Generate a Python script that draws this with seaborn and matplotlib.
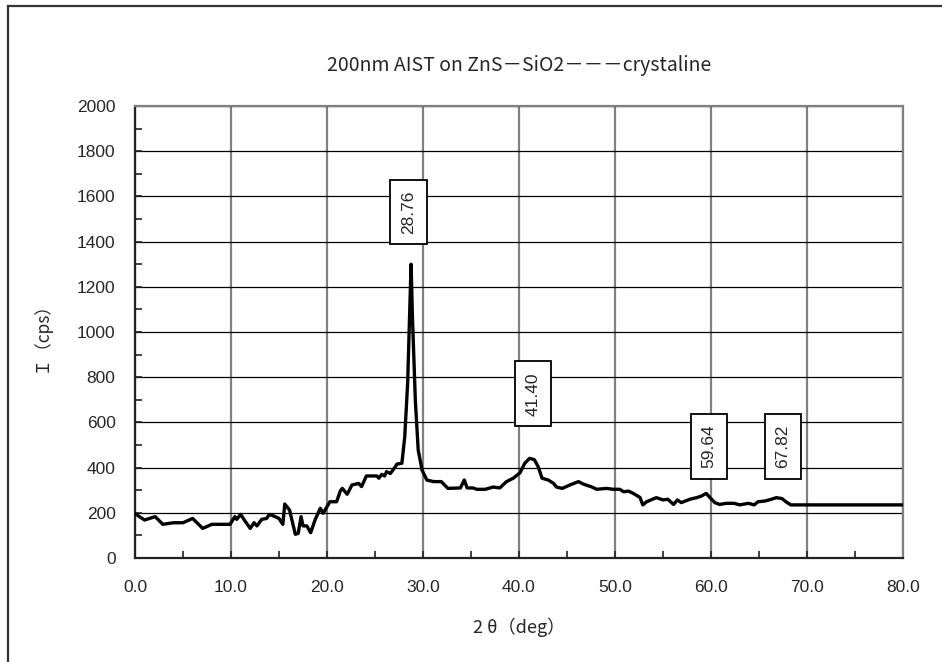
"""XRD scan of 200nm AIST on ZnS-SiO2 (crystalline), redrawn with seaborn."""

import matplotlib
matplotlib.use("Agg")
import matplotlib.pyplot as plt
from matplotlib.patches import Rectangle
from matplotlib.ticker import MultipleLocator
import pandas as pd
import seaborn as sns


TWO_THETA = [0.0, 1.0, 2.1, 2.9, 4.0, 5.0, 6.0, 7.05, 8.0, 9.9, 10.4, 10.6, 11.0, 11.5, 12.0, 12.4, 12.7, 13.2,
             13.7, 14.0, 14.6, 15.0, 15.4, 15.6, 16.1, 16.7, 17.0, 17.3, 17.5, 17.9, 18.3, 18.75, 19.3, 19.6,
             20.3, 21.0, 21.4, 21.6, 22.1, 22.6, 23.3, 23.6, 24.1, 25.2, 25.4, 25.7, 26.0, 26.2, 26.6, 27.0,
             27.3, 27.8, 28.1, 28.4, 28.6, 28.76, 28.9, 29.2, 29.5, 29.9, 30.4, 31.1, 31.9, 32.6, 33.9, 34.3,
             34.6, 35.2, 35.6, 36.5, 37.3, 38.0, 38.7, 39.4, 40.1, 40.6, 41.1, 41.6, 42.0, 42.4, 43.05, 43.6,
             43.9, 44.5, 45.3, 46.2, 46.7, 47.6, 48.1, 49.1, 49.8, 50.5, 50.9, 51.4, 51.9, 52.6, 52.9, 53.3,
             54.3, 55.0, 55.5, 56.1, 56.5, 56.9, 57.8, 58.5, 59.0, 59.5, 59.9, 60.4, 60.9, 61.6, 62.4, 63.0,
             63.9, 64.5, 64.9, 65.6, 66.3, 66.8, 67.4, 67.8, 68.3, 80.0]
INTENSITY = [196, 168, 183, 149, 156, 156, 175, 131, 149, 149, 183, 171, 193, 161, 131, 156, 142, 171,
             175, 193, 183, 175, 149, 239, 212, 105, 109, 183, 142, 142, 112, 168, 220, 198,
             249, 249, 298, 308, 282, 323, 330, 316, 363, 363, 353, 370, 363, 382, 374, 397,
             416, 419, 537, 773, 1068, 1300, 1068, 699, 478, 389, 345, 338, 338, 308, 310, 345,
             310, 310, 304, 304, 314, 310, 338, 353, 377, 419, 441, 435, 404, 353, 345, 330,
             314, 308, 323, 338, 327, 314, 304, 308, 304, 304, 293, 296, 286, 268, 235, 249,
             267, 257, 260, 237, 257, 245, 260, 267, 274, 286, 267, 245, 237, 242, 242, 235,
             242, 235, 249, 252, 260, 267, 263, 249, 235, 235]
PEAK_LABELS = ["28.76", "41.40", "59.64", "67.82"]
PEAK_LABEL_POS = [(28.5, 1531), (41.46, 726), (59.77, 495), (67.5, 495)]

X_TICKS = list(range(0, 81, 10))
Y_TICKS = list(range(0, 2001, 200))
TITLE = "200nm AIST on ZnS\uff0dSiO2\uff0d\uff0d\uff0dcrystaline"
CJK = ["Noto Sans CJK JP", "DejaVu Sans"]

sns.set_style("ticks")
plt.rcParams["font.family"] = ["Liberation Sans", "Noto Sans CJK JP", "DejaVu Sans"]

df = pd.DataFrame({"two_theta": TWO_THETA, "intensity": INTENSITY})

fig = plt.figure(figsize=(9.42, 6.62), dpi=100)
ax = fig.add_axes([135 / 942, 1 - 558 / 662, 768 / 942, 452 / 662])
sns.lineplot(data=df, x="two_theta", y="intensity", color="black", linewidth=2.4, ax=ax, zorder=3)

ax.set_xlim(0, 80); ax.set_ylim(0, 2000)
ax.set_xticks(X_TICKS); ax.set_xticklabels([f"{t:.1f}" for t in X_TICKS])
ax.set_yticks(Y_TICKS)
ax.xaxis.set_minor_locator(MultipleLocator(5)); ax.yaxis.set_minor_locator(MultipleLocator(100))
ax.tick_params(which="both", direction="in", length=5, width=1.2, color="#222222", labelsize=12.5)
ax.tick_params(axis="x", pad=16); ax.tick_params(axis="y", pad=14)
ax.grid(axis="y", which="major", color="black", linewidth=0.9)
ax.grid(axis="x", which="major", color="#808080", linewidth=1.6)
ax.set_axisbelow(True)
for side in ["left", "bottom"]:
    ax.spines[side].set_color("#222222"); ax.spines[side].set_linewidth(1.6)
for side in ["top", "right"]:
    ax.spines[side].set_visible(True); ax.spines[side].set_color("#808080"); ax.spines[side].set_linewidth(1.6)

ax.set_title(TITLE, fontsize=14, family=CJK, pad=25)
ax.set_xlabel("2 θ（deg）", fontsize=13, family=CJK, labelpad=16)
ax.set_ylabel("Ｉ（cps）", fontsize=12.5, family=CJK, labelpad=20)

for label, (px, py) in zip(PEAK_LABELS, PEAK_LABEL_POS):
    ax.text(px, py, label, rotation=90, ha="center", va="center", fontsize=12.5, zorder=4,
            bbox=dict(boxstyle="square,pad=0.62", facecolor="white", edgecolor="black", linewidth=1.3))

fig.patches.append(Rectangle((8 / 942, -0.01), 1.0, 1 - 6 / 662 + 0.01, transform=fig.transFigure,
                             fill=False, edgecolor="#333333", linewidth=1.6))
fig.savefig("out.png", dpi=100)
